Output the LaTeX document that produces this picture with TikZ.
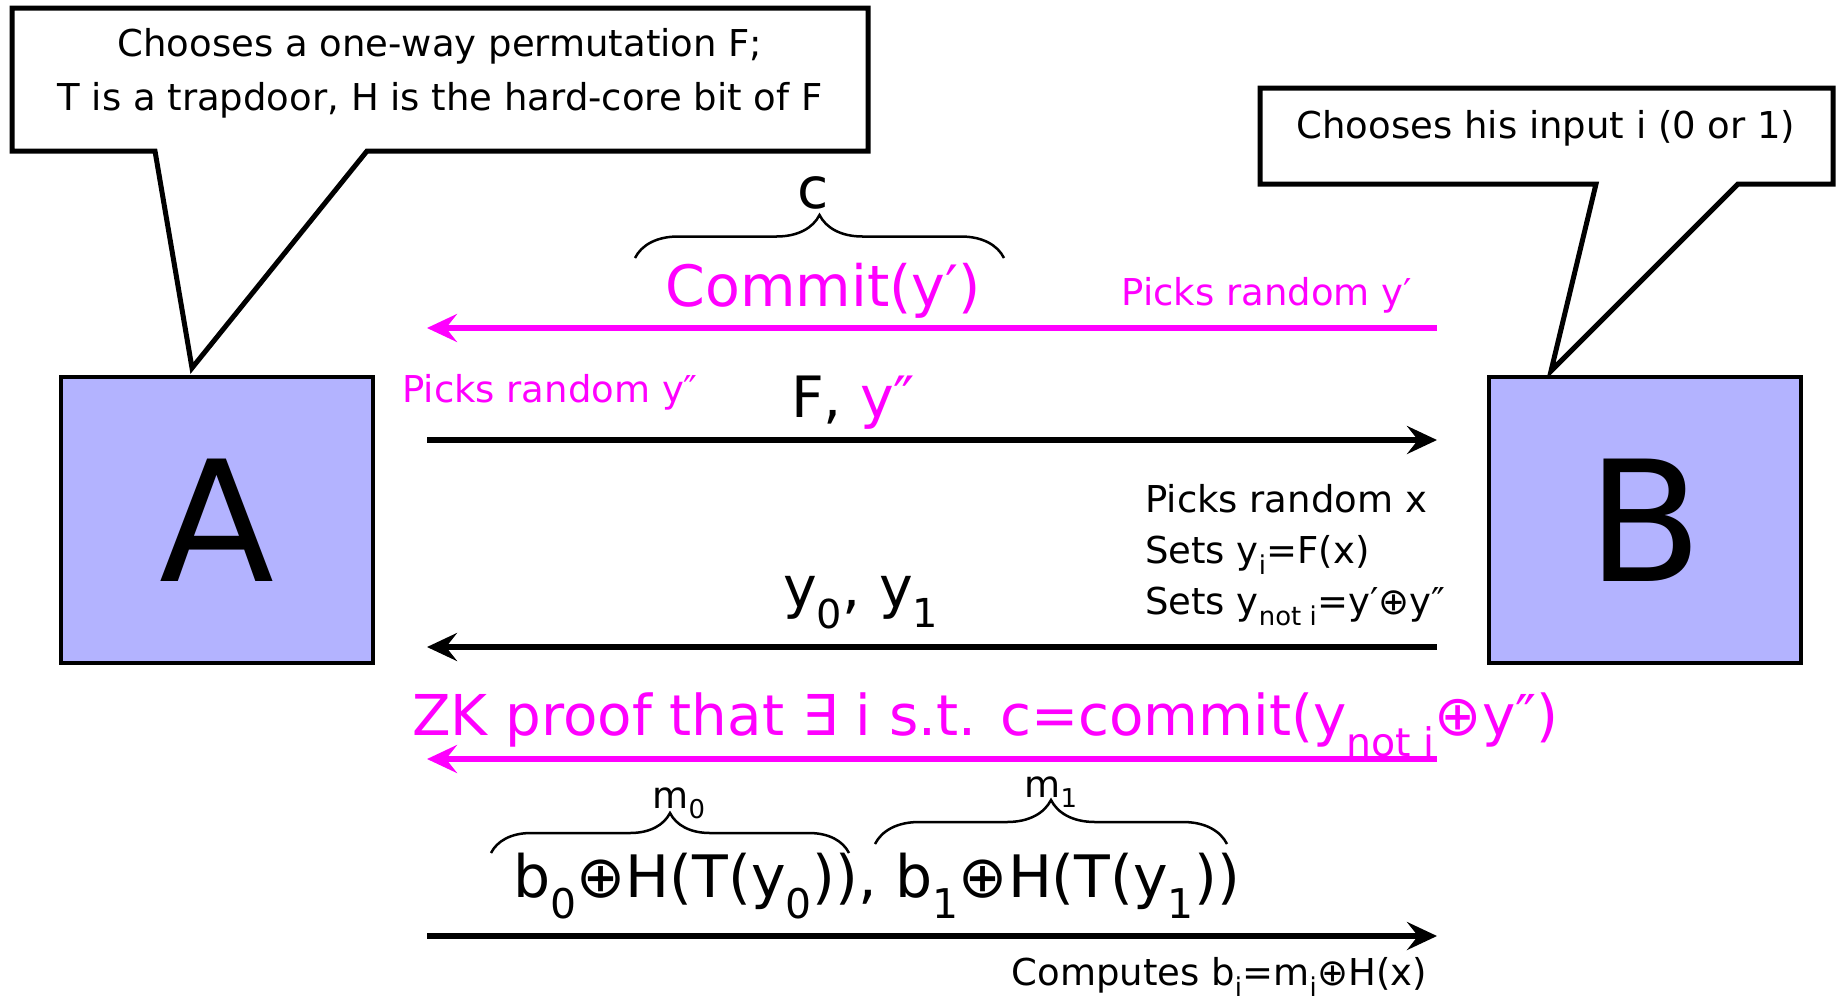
\documentclass[tikz,border=0pt]{standalone}
\usepackage{fontspec}
\setmainfont{DejaVu Sans}
\usepackage{xcolor}
\usepackage{tikz}
\usetikzlibrary{arrows.meta, positioning, decorations.pathreplacing}
\definecolor{partyblue}{RGB}{179,179,255}
\definecolor{msgpink}{RGB}{255,0,255}
\newcommand{\lo}[1]{\textsubscript{#1}}

\begin{document}
\begin{tikzpicture}[x=1pt, y=-1pt,
    party/.style={rectangle, draw=black, line width=4.5pt, fill=partyblue, minimum width=312pt,
                  minimum height=286pt, inner sep=0pt, font=\fontsize{168}{168}\selectfont},
    bubble/.style={draw=black, line width=5pt, fill=white},
    small/.style={inner sep=0pt, font=\fontsize{37}{51}\selectfont},
    big/.style={inner sep=0pt, font=\fontsize{57}{62}\selectfont},
    msg/.style={line width=6pt, -{Stealth[length=30pt, width=28pt, inset=11pt]}},
    grp/.style={line width=2.5pt, decorate, decoration={brace, amplitude=#1}}
]
\useasboundingbox (0,0) rectangle (1841,1002);
% speech bubbles
\draw[bubble] (12,8) -- (868,8) -- (868,151) -- (367,151) -- (192,368) -- (155,151) -- (12,151) -- cycle;
\draw[bubble] (1260,88) -- (1833,88) -- (1833,184) -- (1738,184) -- (1551,371) -- (1596,184) -- (1260,184) -- cycle;
\node[small, anchor=base] (ta1) at (440,56) {Chooses a one-way permutation F;};
\node[small, anchor=base] (ta2) at (440,110) {T is a trapdoor, H is the hard-core bit of F};
\node[small, anchor=base] (tb) at (1546,138) {Chooses his input i (0 or 1)};
% parties
\node[party] (A) at (217,520) {\raisebox{-6pt}{A}};
\node[party] (B) at (1645,520) {\raisebox{-6pt}{B}};
% message ends
\foreach \n/\y in {1/328, 2/440, 3/647, 4/759, 5/936} {
  \coordinate (w\n) at (427,\y);
  \coordinate (e\n) at (1437,\y);
}
\draw[msg, msgpink] (e1) -- (w1);
\draw[msg] (w2) -- (e2);
\draw[msg] (e3) -- (w3);
\draw[msg, msgpink] (e4) -- (w4);
\draw[msg] (w5) -- (e5);
% round 1
\node[big, anchor=base] (c) at (813,208) {c};
\node[big, anchor=base, text=msgpink] (com) at (823,306) {Commit(y′)};
\coordinate (cl) at (635,258);
\coordinate (cr) at (1004,258);
\draw[grp=43pt] (cl) -- (cr);
\node[small, anchor=base east, text=msgpink] (pr1) at (1412,305) {Picks random y′};
% round 2
\node[small, anchor=base west, text=msgpink] (pr2) at (402,402) {Picks random y″};
\node[big, anchor=base west] (fy) at (791,417) {F, \textcolor{msgpink}{y″}};
% round 3
\node[small, anchor=base west] (s1) at (1145,512) {Picks random x};
\node[small, anchor=base west] (s2) at (1145,563) {Sets y\lo{i}=F(x)};
\node[small, anchor=base west] (s3) at (1145,614) {Sets y\lo{not i}=y′⊕y″};
\node[big, anchor=base west] (yy) at (783,607) {y\lo{0}, y\lo{1}};
% round 4
\node[big, anchor=base west, text=msgpink, font=\fontsize{56.3}{62}\selectfont] (zk) at (412,735) {ZK proof that ∃ i s.t. c=commit(y\lo{not i}⊕y″)};
% round 5
\node[small, anchor=base] (m0) at (679,808) {m\lo{0}};
\node[small, anchor=base] (m1) at (1051,797) {m\lo{1}};
\coordinate (g0l) at (491,853);
\coordinate (g0r) at (849,853);
\coordinate (g1l) at (875,844);
\coordinate (g1r) at (1227,844);
\draw[grp=40pt] (g0l) -- (g0r);
\draw[grp=44pt] (g1l) -- (g1r);
\node[big, anchor=base west, font=\fontsize{58.5}{62}\selectfont] (bb) at (513,897) {b\lo{0}⊕H(T(y\lo{0})), b\lo{1}⊕H(T(y\lo{1}))};
\node[small, anchor=base east] (cb) at (1427,985) {Computes b\lo{i}=m\lo{i}⊕H(x)};
\end{tikzpicture}
\end{document}
